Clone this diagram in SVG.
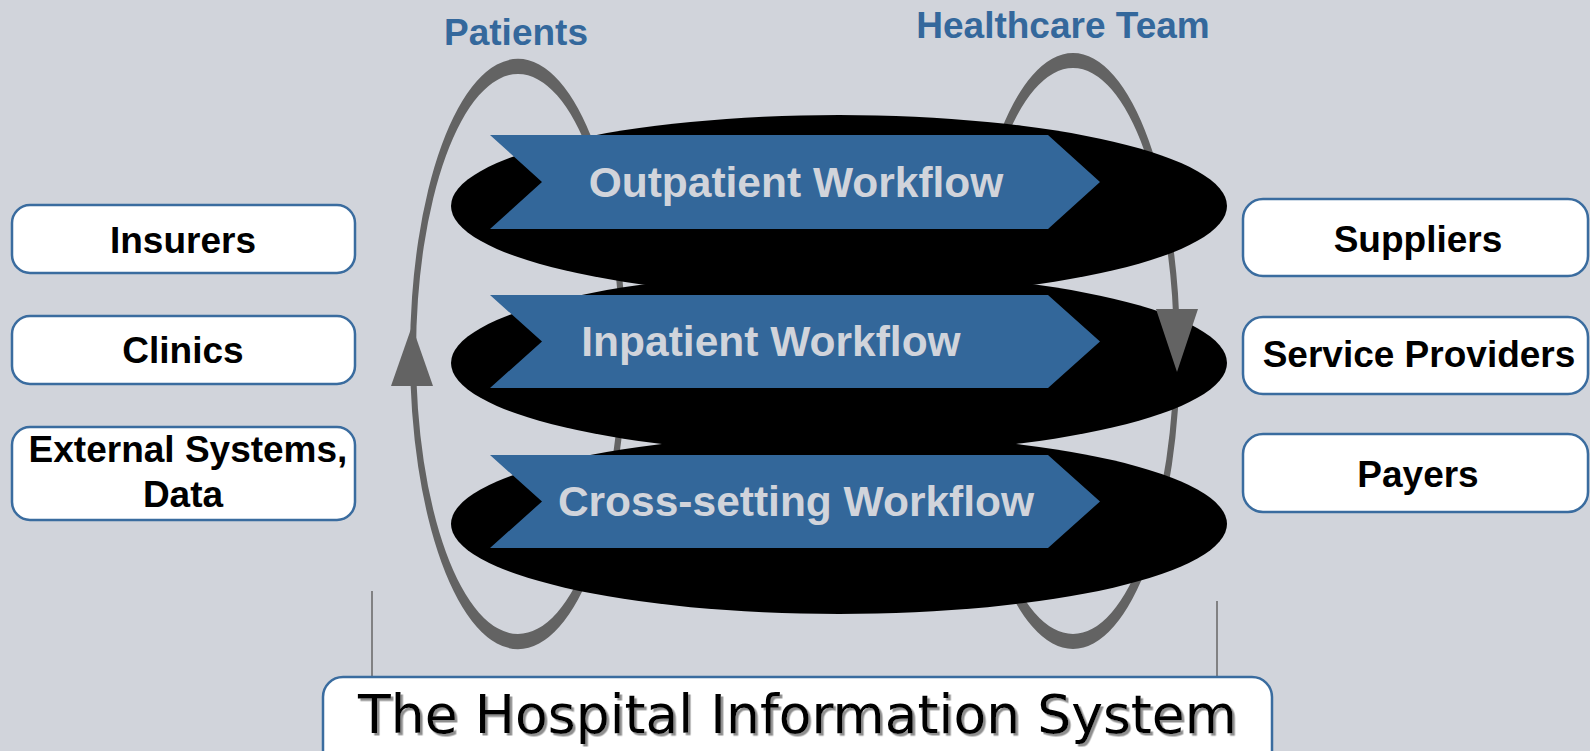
<svg xmlns="http://www.w3.org/2000/svg" width="1590" height="751" viewBox="0 0 1590 751">
  <defs>
    <style>
      .box { fill: #ffffff; stroke: #3a6c9f; stroke-width: 2.5; }
      .boxText { font-family: "Liberation Sans", Arial, sans-serif; font-weight: bold; font-size: 37px; fill: #000000; text-anchor: middle; }
      .topLabel { font-family: "Liberation Sans", Arial, sans-serif; font-weight: bold; font-size: 37px; fill: #34689c; text-anchor: middle; }
      .chevron { fill: #33679a; }
      .chevText { font-family: "Liberation Sans", Arial, sans-serif; font-weight: bold; font-size: 42.5px; fill: #d1d4db; text-anchor: middle; }
      .disc { fill: #000000; }
      .loop { fill: #636363; fill-rule: evenodd; }
      .head { fill: #636363; }
      .tick { stroke: #666666; stroke-width: 1.5; fill: none; }
      .hisText { font-family: "DejaVu Sans Condensed", "DejaVu Sans", Verdana, sans-serif; font-size: 53px; fill: #000000; }
    </style>
    <filter id="shadow" x="-5%" y="-20%" width="110%" height="140%">
      <feDropShadow dx="2.5" dy="2.5" stdDeviation="0.6" flood-color="#8f8f8f" flood-opacity="1"/>
    </filter>
  </defs>

  <rect x="0" y="0" width="1590" height="751" fill="#d1d4db"/>

  <!-- connectors: loops and ticks (behind discs) -->
  <g id="connectors">
    <path id="patients-loop" class="loop" d="M 410 354 a 108 295 0 1 0 216 0 a 108 295 0 1 0 -216 0 Z M 416 354 a 102 280 0 1 0 204 0 a 102 280 0 1 0 -204 0 Z"/>
    <path id="team-loop" class="loop" d="M 966 351 a 107 298 0 1 0 214 0 a 107 298 0 1 0 -214 0 Z M 972 351 a 101 283 0 1 0 202 0 a 101 283 0 1 0 -202 0 Z"/>
    <line class="tick" x1="372" y1="591" x2="372" y2="677"/>
    <line class="tick" x1="1217" y1="601" x2="1217" y2="677"/>
  </g>

  <!-- workflow discs with chevrons -->
  <g id="outpatient">
    <ellipse class="disc" cx="839" cy="206" rx="388" ry="91"/>
    <polygon class="chevron" points="490,135 1048,135 1100,182 1048,229 490,229 542,182"/>
    <text class="chevText" x="796" y="197">Outpatient Workflow</text>
  </g>
  <g id="inpatient">
    <ellipse class="disc" cx="839" cy="363" rx="388" ry="91"/>
    <polygon class="chevron" points="490,295 1048,295 1100,341.5 1048,388 490,388 542,341.5"/>
    <text class="chevText" x="771" y="356">Inpatient Workflow</text>
  </g>
  <g id="crosssetting">
    <ellipse class="disc" cx="839" cy="524" rx="388" ry="90"/>
    <polygon class="chevron" points="490,455 1048,455 1100,501.5 1048,548 490,548 542,501.5"/>
    <text class="chevText" x="796" y="516">Cross-setting Workflow</text>
  </g>

  <!-- arrowheads on loops -->
  <g id="arrowheads">
    <polygon class="head" points="391,386 433,386 412,326"/>
    <polygon class="head" points="1156,309 1198,309 1177,372"/>
  </g>

  <!-- top labels -->
  <g id="patients-label">
    <text class="topLabel" x="516" y="45">Patients</text>
  </g>
  <g id="team-label">
    <text class="topLabel" x="1063" y="38">Healthcare Team</text>
  </g>

  <!-- left boxes -->
  <g id="insurers">
    <rect class="box" x="12" y="205" width="343" height="68" rx="18"/>
    <text class="boxText" x="183" y="253">Insurers</text>
  </g>
  <g id="clinics">
    <rect class="box" x="12" y="316" width="343" height="68" rx="18"/>
    <text class="boxText" x="183" y="363">Clinics</text>
  </g>
  <g id="external">
    <rect class="box" x="12" y="427" width="343" height="93" rx="18"/>
    <text class="boxText" x="188" y="462">External Systems,</text>
    <text class="boxText" x="183" y="507">Data</text>
  </g>

  <!-- right boxes -->
  <g id="suppliers">
    <rect class="box" x="1243" y="199" width="345" height="77" rx="20"/>
    <text class="boxText" x="1418" y="252">Suppliers</text>
  </g>
  <g id="service-providers">
    <rect class="box" x="1243" y="317" width="345" height="77" rx="20"/>
    <text class="boxText" x="1419" y="367">Service Providers</text>
  </g>
  <g id="payers">
    <rect class="box" x="1243" y="434" width="345" height="78" rx="20"/>
    <text class="boxText" x="1418" y="487">Payers</text>
  </g>

  <!-- bottom system box -->
  <g id="his">
    <rect class="box" x="323" y="677" width="949" height="100" rx="20"/>
    <text class="hisText" x="358" y="733" textLength="879" lengthAdjust="spacingAndGlyphs" filter="url(#shadow)">The Hospital Information System</text>
  </g>
</svg>
